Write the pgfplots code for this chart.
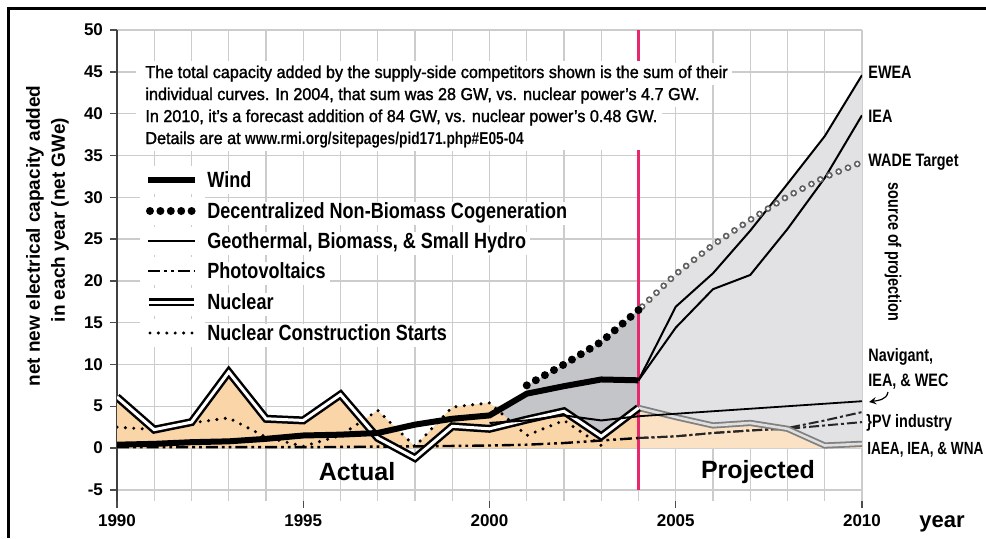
\documentclass[border=0pt]{standalone}
\usepackage{fontspec}
\setmainfont{Liberation Sans}
\newfontfamily\cond[FakeStretch=0.8]{Liberation Sans}
\newfontfamily\condS[FakeStretch=0.77]{Liberation Sans}
\newfontfamily\condL[FakeStretch=0.82]{Liberation Sans}
\newfontfamily\condM[FakeStretch=0.94,FakeBold=1.5]{Liberation Sans}
\usepackage{pgfplots}
\pgfplotsset{compat=1.18}
\definecolor{myTan}{RGB}{250,213,168}
\definecolor{myTanL}{RGB}{251,226,196}
\definecolor{dGrey}{RGB}{196,197,201}
\definecolor{lGrey}{RGB}{226,226,228}
\definecolor{pinkLine}{RGB}{232,40,110}
\tikzset{
 windst/.style={black, line width=3pt},
 cogst/.style={black, line width=4pt, line cap=round, dash pattern=on 0pt off 5.2pt},
 geost/.style={black, line width=1pt},
 pvst/.style={black, line width=1.2pt, dash pattern=on 6pt off 2pt on 1.4pt off 2pt on 1.4pt off 2pt},
 nucst/.style={black, line width=1.25pt, double=white, double distance=1.5pt},
 ncsst/.style={black, line width=1.7pt, line cap=round, dash pattern=on 0pt off 4.2pt},
}
\begin{document}
\begin{tikzpicture}
\useasboundingbox (0,0) rectangle (493pt,269pt);
\begin{axis}[
  at={(58.5pt,18.65pt)}, anchor=south west,
  scale only axis, width=372.5pt, height=235.35pt,
  xmin=1990, xmax=2010, ymin=-6.3, ymax=50,
  xtick={1990,1995,2000,2005,2010}, ytick={-5,0,5,10,15,20,25,30,35,40,45,50},
  minor x tick num=4,
  grid=both,
  major grid style={gray!40, line width=0.7pt},
  minor grid style={gray!40, line width=0.7pt},
  axis x line*=bottom, axis y line*=left,
  x axis line style={draw=none},
  y axis line style={black!75, line width=0.9pt},
  tick align=outside, major tick length=3.5pt, minor tick length=0pt,
  tick style={black!70, line width=0.7pt},
  ticklabel style={font=\bfseries\fontsize{8.5}{9}\selectfont},
  /pgf/number format/.cd, 1000 sep={}, assume math mode=true,
]
% projected grey area
\addplot[draw=none, fill=lGrey] coordinates {(2004,16.5) (2005,20.8) (2006,24.3) (2007,27.3) (2007.46,28.6) (2008,31.6) (2009,37.3) (2010,44.6)} \closedcycle;
% actual grey area
\addplot[draw=none, fill=dGrey] coordinates {(2000,3.9) (2001,6.5) (2001,7.5) (2002,10.0) (2003,12.7) (2004,16.5)} \closedcycle;
% tan area (nuclear), actual and projected
\addplot[draw=none, fill=myTan] coordinates {(1990,6.1) (1991,2.3) (1992,3.1) (1993,9.1) (1994,3.5) (1995,3.3) (1996,6.4) (1996.6,3.3) (1997,4.5) (1998,0.2) (1999,4.9) (2000,5.4) (2000.63,2.95) (2001,3.4) (2002,4.4) (2003,1.4) (2004,4.8)} \closedcycle;
\addplot[draw=none, fill=myTanL] coordinates {(2004,4.8) (2005,3.7) (2006,2.7) (2007,3.0) (2008,2.3) (2009,0.3) (2010,0.5)} \closedcycle;
\draw[pinkLine, line width=1.2pt] (axis cs:2004,-5) -- (axis cs:2004,50);
% PV
\addplot[pvst] coordinates {(1990,0.1) (1995,0.1) (1998,0.2) (2000,0.3) (2001,0.4) (2002,0.6) (2003,0.9) (2004,1.2)};
\addplot[black!85, line width=1pt, dash pattern=on 5pt off 1.5pt on 1.5pt off 1.5pt] coordinates {(2004,1.2) (2005,1.4) (2006,1.8) (2007,2.1) (2008,2.4) (2009,3.3) (2010,4.3)};
\addplot[black!85, line width=1pt, dash pattern=on 5pt off 1.5pt on 1.5pt off 1.5pt] coordinates {(2004,1.2) (2005,1.4) (2006,1.8) (2007,2.1) (2008,2.3) (2009,2.7) (2010,3.1)};
% nuclear construction starts
\addplot[ncsst] coordinates {(1990,2.5) (1991,2.2) (1992,3.0) (1993,3.6) (1994,1.3) (1995,0.2) (1996,1.5) (1997,4.5) (1998,0.2) (1999,4.9) (2000,5.4) (2001,1.5) (2002,3.3) (2003,0.3)};
% nuclear
\addplot[draw=gray, line width=0.9pt, double=gray!25, double distance=1.3pt] coordinates {(2004,4.8) (2005,3.7) (2006,2.7) (2007,3.0) (2008,2.3) (2009,0.3) (2010,0.5)};
\addplot[nucst] coordinates {(1990,6.1) (1991,2.2) (1992,3.1) (1993,9.1) (1994,3.5) (1995,3.3) (1996,6.4) (1997,1.2) (1998,-1.2) (1999,2.6) (2000,2.3) (2001,3.4) (2002,4.4) (2003,1.4) (2004,4.8)};
% geothermal, biomass, small hydro
\addplot[geost] coordinates {(2000,3.0) (2001,3.3) (2002,3.9) (2003,3.3) (2004,3.8)};
\addplot[black, line width=0.9pt] coordinates {(2004,3.8) (2005,4.1) (2006,4.4) (2007,4.7) (2008,5.0) (2009,5.3) (2010,5.6)};
% wind
\addplot[windst] coordinates {(1990,0.4) (1991,0.5) (1992,0.7) (1993,0.8) (1994,1.1) (1995,1.5) (1996,1.6) (1997,1.8) (1998,2.8) (1999,3.5) (2000,3.9) (2001,6.5) (2002,7.4) (2003,8.2) (2004,8.1)};
% EWEA and IEA projections
\addplot[black, line width=1pt] coordinates {(2004,8.1) (2005,16.9) (2006,20.9) (2007,26.0) (2008,31.6) (2009,37.3) (2010,44.6)};
\addplot[black, line width=1pt] coordinates {(2004,8.1) (2005,14.4) (2006,19.0) (2007,20.7) (2008,26.2) (2009,32.3) (2010,39.8)};
% WADE target (open circles)
\addplot[gray!75!black, line width=3.4pt, line cap=round, dash pattern=on 0pt off 5pt, dash phase=-2.5pt] coordinates {(2004,16.5) (2005,20.8) (2006,24.3) (2007,27.3) (2008,30.1) (2009,32.4) (2010,34.2)};
\addplot[white, line width=1.8pt, line cap=round, dash pattern=on 0pt off 5pt, dash phase=-2.5pt] coordinates {(2004,16.5) (2005,20.8) (2006,24.3) (2007,27.3) (2008,30.1) (2009,32.4) (2010,34.2)};
% decentralized cogeneration
\addplot[cogst] coordinates {(2001,7.5) (2002,10.0) (2003,12.7) (2004,16.5)};
\end{axis}
\begin{scope}[x=0.5pt, y=-0.5pt, yshift=269pt]
% outer frame
\draw[black, line width=1.5pt] (8,538) -- (8,8) -- (986,8);
% text box
\fill[white] (136,61) rectangle (662,150);
\begin{scope}[every node/.style={anchor=base west, fill=white, inner xsep=2pt, inner ysep=0pt, text height=7.5pt, text depth=3.5pt, font=\condM\fontsize{8.6}{9}\selectfont}]
\node at (141,78) {The total capacity added by the supply-side competitors shown is the sum of their};
\node at (141,100) {individual curves. In 2004, that sum was 28 GW, vs. nuclear power’s 4.7 GW.};
\node at (141,122) {In 2010, it’s a forecast addition of 84 GW, vs. nuclear power’s 0.48 GW.};
\node at (141,144) {Details are at {\cond\bfseries www.rmi.org/sitepages/pid171.php\#E05-04}};
\end{scope}
% legend
\begin{scope}[every node/.style={anchor=base west, fill=white, inner xsep=2pt, inner ysep=0pt, text height=8.5pt, text depth=3pt, font=\condL\bfseries\fontsize{11}{12}\selectfont}]
\foreach \yy in {180,211,241,271,302,333} {\fill[white] (140,\yy-14) rectangle (205,\yy+14);}
\draw[windst] (148,180) -- (195,180); \node at (203,187.5) {Wind};
\draw[cogst] (150,211) -- (195,211); \node at (203,218.5) {Decentralized Non-Biomass Cogeneration};
\draw[geost] (148,241) -- (195,241); \node at (203,248.5) {Geothermal, Biomass, \& Small Hydro};
\draw[pvst] (148,271) -- (195,271); \node at (203,278.5) {Photovoltaics};
\draw[nucst] (149,302) -- (194,302); \node at (203,309.5) {Nuclear};
\draw[ncsst] (150,333) -- (195,333); \node at (203,340.5) {Nuclear Construction Starts};
\end{scope}
% right-hand annotations
\begin{scope}[every node/.style={anchor=base west, inner sep=0pt, font=\cond\bfseries\fontsize{9}{10}\selectfont}]
\node at (868,78.5) {EWEA};
\node at (868,122) {IEA};
\node at (868,166) {WADE Target};
\node at (868,361) {Navigant,};
\node at (868,386) {IEA, \& WEC};
\node at (866,427) {\}PV industry};
\node[font=\condS\bfseries\fontsize{8.8}{10}\selectfont] at (867,454) {IAEA, IEA, \& WNA};
\node[anchor=center, rotate=-90] at (893,252) {source of projection};
\end{scope}
\draw[->, >=stealth, line width=0.6pt] (888,392) to[out=-100, in=10] (869,402);
% axis labels and region labels
\node[rotate=90, font=\bfseries\fontsize{9.5}{12.5}\selectfont] at (35,236) {net new electrical capacity added};
\node[rotate=90, font=\bfseries\fontsize{9.5}{12.5}\selectfont] at (60,220) {in each year (net GWe)};
\node[anchor=base, font=\bfseries\fontsize{11}{12}\selectfont] at (942,527) {year};
\node[font=\bfseries\fontsize{12.5}{13}\selectfont] at (357,472) {Actual};
\node[font=\bfseries\fontsize{12.5}{13}\selectfont] at (758,472) {Projected};
\end{scope}
\end{tikzpicture}
\end{document}
